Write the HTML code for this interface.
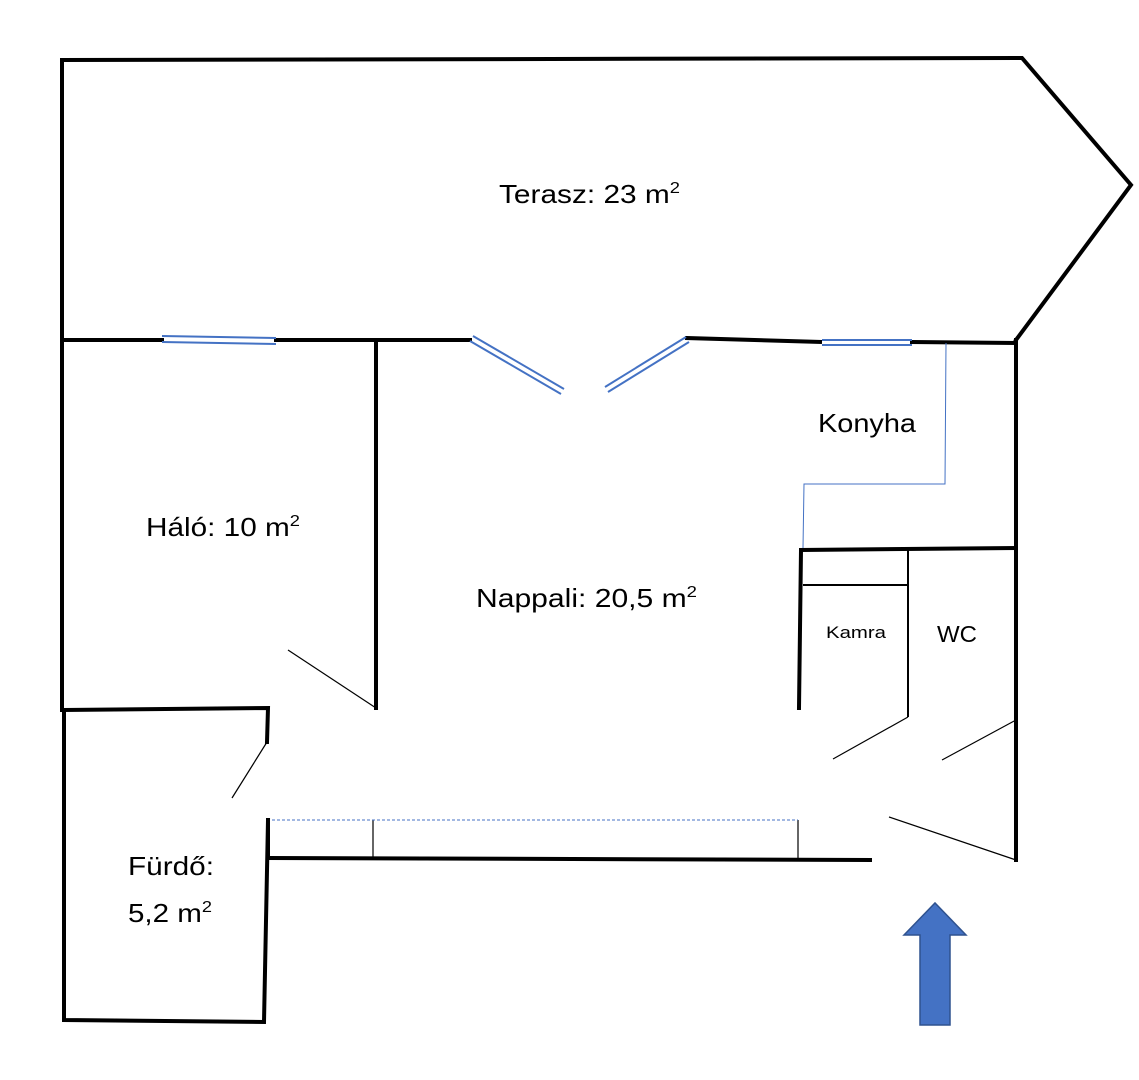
<!DOCTYPE html>
<html><head><meta charset="utf-8"><style>
html,body{margin:0;padding:0;background:#fff;}
svg{display:block}
text{font-family:"Liberation Sans","DejaVu Sans",sans-serif;fill:#000}
</style></head><body>
<svg width="1139" height="1080" viewBox="0 0 1139 1080" xmlns="http://www.w3.org/2000/svg">
<g stroke="#000" stroke-width="4" fill="none" stroke-linecap="square">
<polyline points="62,60 1022,58 1131,185 1016,340"/>
<line x1="62" y1="60" x2="62" y2="710"/>
<polyline points="64,710 64,1020 264,1022 268,820"/>
<polyline points="64,710 268,708 267,742"/>
<line x1="62" y1="340" x2="162" y2="340"/>
<line x1="276" y1="340" x2="470" y2="340"/>
<line x1="687" y1="338" x2="820" y2="342"/>
<line x1="912" y1="342" x2="1016" y2="343"/>
<line x1="1016" y1="340" x2="1016" y2="860"/>
<line x1="376" y1="340" x2="376" y2="708"/>
<polyline points="799,708 801,550 1016,548"/>
<line x1="268" y1="820" x2="268" y2="858"/>
<line x1="268" y1="858" x2="870" y2="860"/>
</g>
<g stroke="#000" stroke-width="2" fill="none">
<line x1="803" y1="585" x2="907" y2="585"/>
<line x1="908" y1="550" x2="908" y2="717"/>
</g>
<g stroke="#000" stroke-width="1.2" fill="none">
<line x1="267" y1="742" x2="232" y2="798"/>
<line x1="288" y1="650" x2="376" y2="708"/>
<line x1="908" y1="717" x2="833" y2="759"/>
<line x1="1016" y1="720" x2="942" y2="760"/>
<line x1="889" y1="817" x2="1016" y2="860"/>
<line x1="373" y1="820" x2="373" y2="858"/>
<line x1="798" y1="820" x2="798" y2="858"/>
</g>
<line x1="272" y1="820" x2="798" y2="820" stroke="#4472c4" stroke-width="1" stroke-dasharray="3,2"/>
<polyline points="946,343 945,484 804,484 803,548" stroke="#4472c4" stroke-width="1" fill="none"/>
<g stroke="#4472c4" stroke-width="2" fill="none">
<line x1="162" y1="336" x2="276" y2="338"/><line x1="162" y1="342" x2="276" y2="344"/>
<line x1="473" y1="336" x2="564" y2="389"/><line x1="470" y1="341" x2="561" y2="394"/>
<line x1="686" y1="337" x2="605" y2="387"/><line x1="689" y1="342" x2="608" y2="392"/>
<line x1="822" y1="340" x2="912" y2="340"/><line x1="822" y1="345" x2="912" y2="345"/>
</g>
<polygon points="904,935 935,903 966,935 950,935 950,1025 920,1025 920,935" fill="#4472c4" stroke="#2f528f" stroke-width="1.5"/>
<text x="499" y="203" font-size="26" textLength="181" lengthAdjust="spacingAndGlyphs">Terasz: 23 m<tspan font-size="16" dy="-10">2</tspan></text>
<text x="146" y="536" font-size="26" textLength="154" lengthAdjust="spacingAndGlyphs">Háló: 10 m<tspan font-size="16" dy="-10">2</tspan></text>
<text x="476" y="607" font-size="26" textLength="221" lengthAdjust="spacingAndGlyphs">Nappali: 20,5 m<tspan font-size="16" dy="-10">2</tspan></text>
<text x="818" y="432" font-size="26" textLength="98" lengthAdjust="spacingAndGlyphs">Konyha</text>
<text x="826" y="638" font-size="17" textLength="60" lengthAdjust="spacingAndGlyphs">Kamra</text>
<text x="937" y="642" font-size="23" textLength="40" lengthAdjust="spacingAndGlyphs">WC</text>
<text x="128" y="875" font-size="26" textLength="86" lengthAdjust="spacingAndGlyphs">Fürdő:</text>
<text x="128" y="922" font-size="26" textLength="84" lengthAdjust="spacingAndGlyphs">5,2 m<tspan font-size="16" dy="-10">2</tspan></text>
</svg>
</body></html>
